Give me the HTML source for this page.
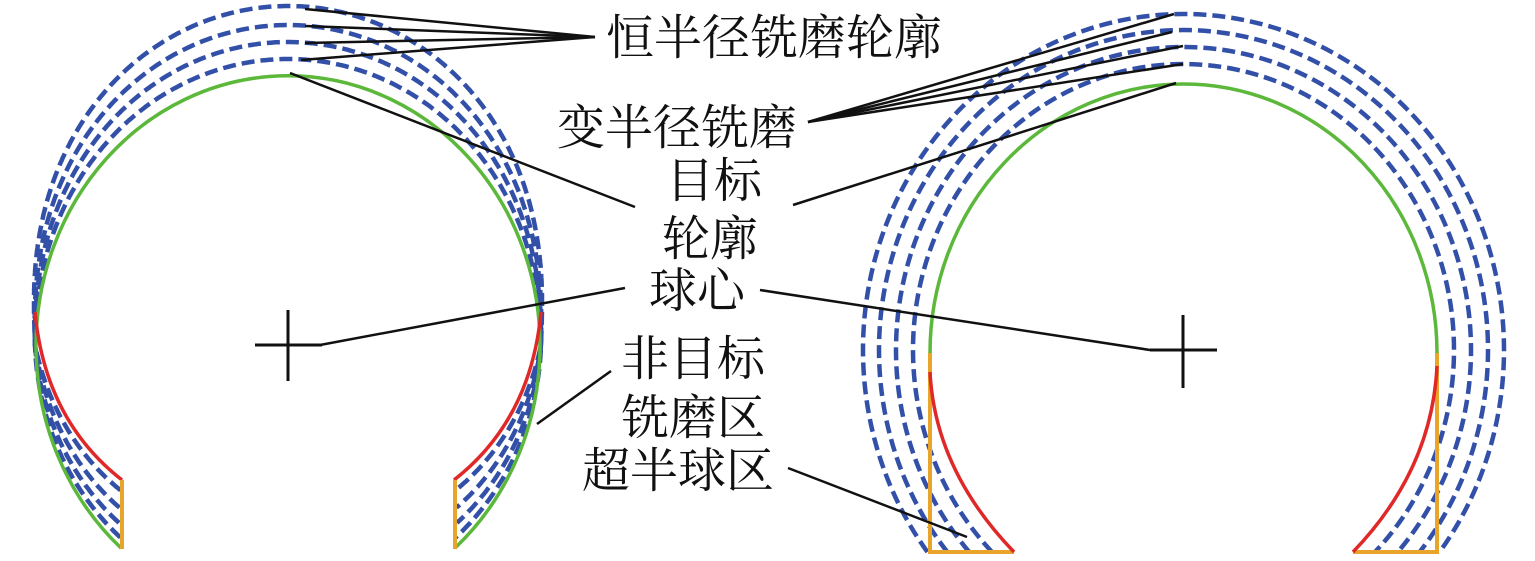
<!DOCTYPE html>
<html><head><meta charset="utf-8"><style>
html,body{margin:0;padding:0;background:#fff;}
svg{display:block;}
text{font-family:"Liberation Serif","Noto Serif CJK SC",serif;font-size:48px;fill:#111;}
</style></head><body>
<svg id="s" width="1535" height="561" viewBox="0 0 1535 561" xmlns="http://www.w3.org/2000/svg">
<g id="leftblue" fill="none" stroke="#3350a8" stroke-width="4.5" stroke-dasharray="13 6"></g>
<path d="M121,548 A252,270 0 1 1 455,548" fill="none" stroke="#5cb83a" stroke-width="3.5"/>
<path d="M35,312 Q45,420 122,480" fill="none" stroke="#e02828" stroke-width="3.5"/>
<path d="M541,312 Q531,420 454,480" fill="none" stroke="#e02828" stroke-width="3.5"/>
<line x1="122" y1="480" x2="122" y2="549" stroke="#e8a52a" stroke-width="4"/>
<line x1="455" y1="480" x2="455" y2="549" stroke="#e8a52a" stroke-width="4"/>

<g fill="none" stroke="#3350a8" stroke-width="4.5" stroke-dasharray="13 6" id="rightblue"></g>
<path d="M930,353 A253.5,269 0 1 1 1437,353" fill="none" stroke="#5cb83a" stroke-width="3.5"/>
<path d="M930,353 L930,552 L1014,552 M1437,353 L1437,552 L1353,552" fill="none" stroke="#e8a52a" stroke-width="4"/>
<path d="M930,372 Q935,470 1014,552" fill="none" stroke="#e02828" stroke-width="3.5"/>
<path d="M1437,366 Q1432,470 1353,552" fill="none" stroke="#e02828" stroke-width="3.5"/>

<g stroke="#111" stroke-width="3">
<line x1="255" y1="345" x2="322" y2="345"/><line x1="288" y1="310" x2="288" y2="381"/>
<line x1="1150" y1="350" x2="1217" y2="350"/><line x1="1183" y1="315" x2="1183" y2="388"/>
</g>

<g stroke="#111" stroke-width="2.5" fill="none">
<line x1="595" y1="37" x2="305" y2="9"/>
<line x1="595" y1="37" x2="305" y2="26"/>
<line x1="595" y1="37" x2="305" y2="43"/>
<line x1="595" y1="37" x2="301" y2="60"/>
<line x1="808" y1="122" x2="1174" y2="14"/>
<line x1="808" y1="122" x2="1172" y2="32"/>
<line x1="808" y1="122" x2="1183" y2="46"/>
<line x1="808" y1="122" x2="1183" y2="64"/>
<line x1="290" y1="73" x2="635" y2="207"/>
<line x1="793" y1="205" x2="1176" y2="83"/>
<line x1="625" y1="288" x2="320" y2="345"/>
<line x1="760" y1="290" x2="1150" y2="350"/>
<line x1="611" y1="371" x2="537" y2="424"/>
<line x1="788" y1="468" x2="967" y2="537"/>
</g>

<text x="606" y="54">恒半径铣磨轮廓</text>
<text x="557" y="144">变半径铣磨</text>
<text x="666" y="197">目标</text>
<text x="662" y="255">轮廓</text>
<text x="649" y="307">球心</text>
<text x="621" y="375">非目标</text>
<text x="621" y="434">铣磨区</text>
<text x="582" y="487">超半球区</text>
</svg>
<script>
(function(){
var NS="http://www.w3.org/2000/svg";
var cx=288,cy=345,rx=252,ry=270,R=Math.PI/180;
var o=[68,49,32,15],a=[47,44.5,42,39],sc=[0.975,0.94,0.9,0.855];
var g=document.getElementById('leftblue');
for(var i=0;i<4;i++){
  var pts=[];
  for(var p=180+a[i];p>=180;p-=0.5){
    var u=(p-180)/a[i];var s=(1+1/252)+(sc[i]-1-1/252)*u;
    pts.push([cx+s*rx*Math.cos(p*R),cy-s*ry*Math.sin(p*R)]);
  }
  for(var p=180;p>=0;p-=0.5){
    var sn=Math.max(0,Math.sin(p*R));var off=o[i]*Math.pow(sn,1.5)+1;
    pts.push([cx+(rx+off)*Math.cos(p*R),cy-(ry+off)*Math.sin(p*R)]);
  }
  for(var p=0;p>=-a[i];p-=0.5){
    var u=(-p)/a[i];var s=(1+1/252)+(sc[i]-1-1/252)*u;
    pts.push([cx+s*rx*Math.cos(p*R),cy-s*ry*Math.sin(p*R)]);
  }
  var d="M"+pts.map(function(q){return q[0].toFixed(1)+","+q[1].toFixed(1);}).join(" L");
  var el=document.createElementNS(NS,'path');el.setAttribute('d',d);g.appendChild(el);
}
var g2=document.getElementById('rightblue');
var rcx=1183.5,rcy=350,rrx=253.5,rry=269,ro=[17,34,51,67];
for(var i=0;i<4;i++){
  var ax=rrx+ro[i],ay=rry+ro[i];var dy=202;
  var dx=ax*Math.sqrt(1-(dy/ay)*(dy/ay));
  var d="M"+(rcx-dx).toFixed(1)+",552 A"+ax+","+ay+" 0 1 1 "+(rcx+dx).toFixed(1)+",552";
  var el=document.createElementNS(NS,'path');el.setAttribute('d',d);g2.appendChild(el);
}
})();
</script>
</body></html>
